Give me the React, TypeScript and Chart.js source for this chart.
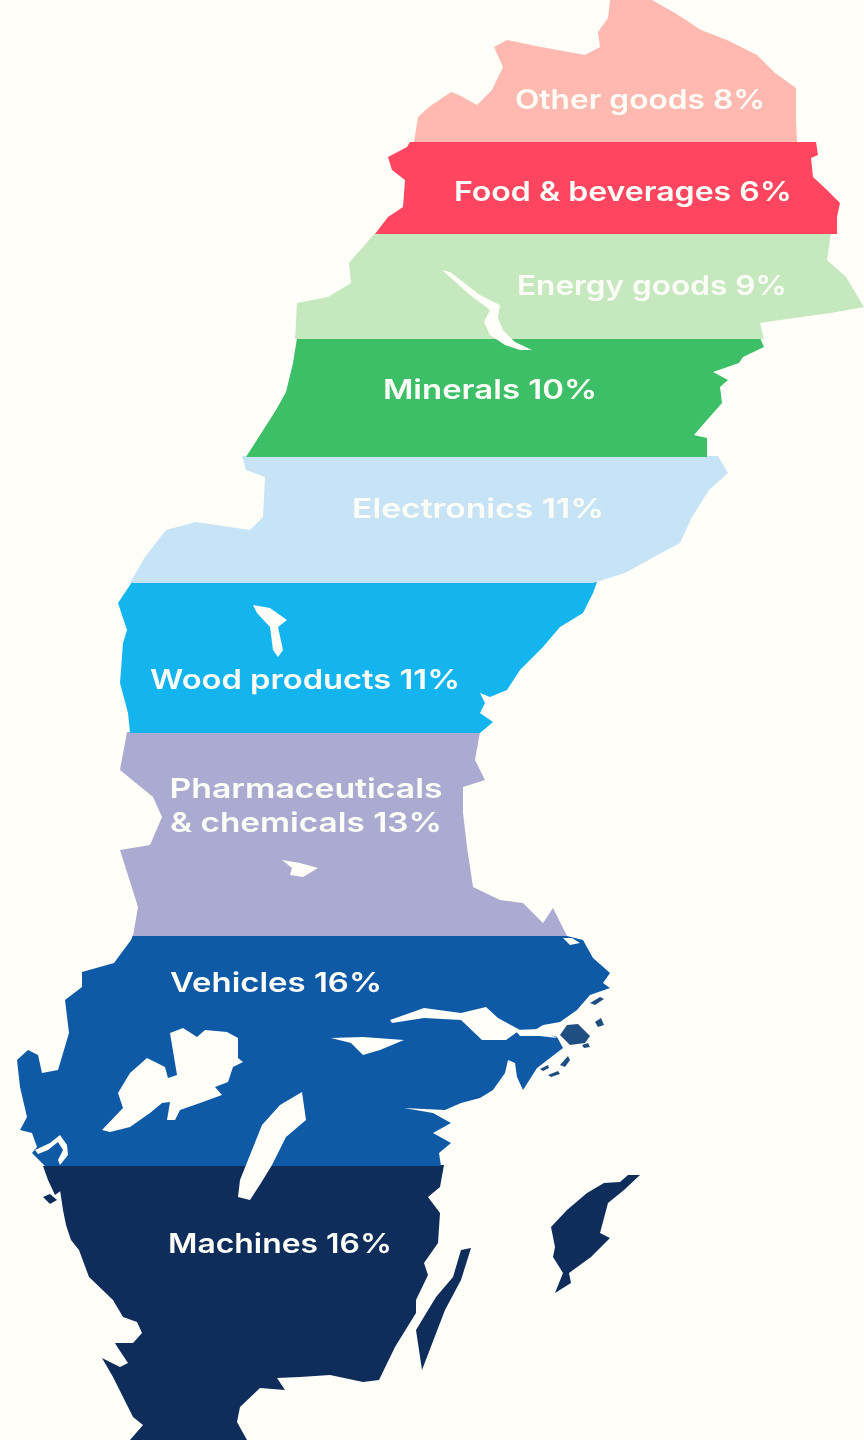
import React, { useEffect, useRef } from "react";
import { Chart, registerables } from "chart.js";

Chart.register(...registerables);

type Pt = [number, number];

const categories = ["Other goods", "Food & beverages", "Energy goods", "Minerals", "Electronics", "Wood products", "Pharmaceuticals & chemicals", "Vehicles", "Machines"];
const shares = [8, 6, 9, 10, 11, 11, 13, 16, 16];

const otherGoods: Pt[] = [[610,0],[652,0],[675,13],[701,30],[727,40],[757,55],[775,73],[796,88],[796,120],[797,142],[414,142],[418,117],[429,107],[451,92],[459,95],[477,105],[492,90],[503,67],[494,47],[507,40],[541,47],[585,55],[600,47],[598,32],[608,18]];
const foodBeverages: Pt[] = [[410,142],[816,142],[818,155],[811,158],[813,177],[827,190],[840,203],[837,217],[837,234],[375,234],[388,217],[403,207],[405,180],[392,170],[388,157],[407,147]];
const energyGoods: Pt[] = [[375,233],[831,233],[827,260],[846,277],[864,307],[831,313],[801,317],[760,323],[764,339],[295,339],[297,303],[328,297],[351,283],[349,263],[369,240]];
const minerals: Pt[] = [[297,338],[760,338],[764,347],[743,357],[739,363],[713,372],[728,380],[720,387],[722,403],[707,420],[694,435],[707,438],[707,457],[246,457],[276,410],[286,392],[293,363]];
const electronics: Pt[] = [[242,456],[718,456],[728,473],[709,490],[692,517],[680,543],[654,557],[625,573],[593,583],[130,583],[145,557],[166,530],[196,522],[250,530],[263,517],[265,477],[246,470]];
const woodProducts: Pt[] = [[132,582],[597,582],[593,593],[583,613],[560,627],[543,647],[520,670],[507,690],[490,697],[480,693],[485,703],[480,713],[493,722],[480,733],[130,733],[128,713],[120,683],[123,643],[127,630],[118,603]];
const pharmaceuticals: Pt[] = [[127,732],[480,732],[475,760],[485,780],[463,787],[463,813],[467,847],[473,887],[500,900],[523,903],[543,923],[553,908],[567,936],[133,936],[138,907],[120,850],[150,845],[162,817],[153,797],[120,770]];
const vehicles: Pt[] = [[133,935],[563,935],[583,940],[593,958],[610,973],[603,983],[610,988],[590,995],[577,1010],[560,1022],[543,1025],[535,1030],[557,1037],[563,1048],[550,1058],[537,1068],[523,1090],[517,1077],[515,1063],[508,1060],[505,1073],[493,1090],[480,1098],[461,1103],[445,1110],[404,1108],[433,1113],[451,1123],[433,1133],[451,1143],[439,1153],[441,1166],[45,1166],[32,1153],[37,1147],[32,1133],[20,1130],[27,1117],[20,1087],[17,1060],[28,1050],[38,1055],[42,1073],[58,1070],[69,1033],[65,1000],[82,987],[82,972],[114,963],[131,940]];
const machines: Pt[] = [[62,1165],[444,1165],[440,1187],[428,1197],[440,1213],[438,1243],[424,1263],[428,1275],[416,1300],[416,1313],[395,1347],[379,1380],[363,1382],[330,1375],[300,1377],[277,1378],[285,1390],[260,1388],[240,1407],[237,1422],[247,1440],[130,1440],[143,1425],[133,1417],[123,1397],[113,1377],[102,1358],[120,1367],[128,1363],[118,1348],[115,1343],[133,1343],[142,1333],[137,1322],[123,1317],[113,1300],[89,1277],[79,1250],[71,1240],[66,1225],[63,1210],[60,1190]];
const gotland: Pt[] = [[640,1175],[628,1175],[620,1182],[604,1183],[587,1193],[567,1210],[551,1227],[555,1247],[553,1257],[563,1273],[555,1293],[571,1283],[569,1273],[591,1257],[610,1238],[600,1233],[608,1203],[624,1190]];
const oland: Pt[] = [[471,1248],[461,1250],[453,1277],[436,1297],[416,1330],[422,1370],[445,1310],[461,1280]];
const westSkerry: Pt[] = [[43,1166],[62,1166],[62,1190],[55,1195],[48,1180]];
const westRock: Pt[] = [[43,1197],[50,1194],[57,1200],[50,1204]];
const eastIslandLarge: Pt[] = [[567,1025],[578,1024],[590,1036],[585,1043],[570,1045],[560,1035]];
const eastRockA: Pt[] = [[590,1003],[600,997],[604,999],[595,1005]];
const eastRockB: Pt[] = [[595,1022],[601,1018],[604,1025],[598,1027]];
const eastRockC: Pt[] = [[582,1045],[588,1043],[590,1047],[584,1048]];
const eastRockD: Pt[] = [[560,1065],[568,1056],[570,1060],[565,1067]];
const eastRockE: Pt[] = [[548,1075],[558,1071],[560,1074],[551,1077]];
const eastRockF: Pt[] = [[540,1069],[548,1065],[549,1068],[543,1071]];

const lakeTorne: Pt[] = [[442,270],[450,272],[480,295],[500,305],[498,318],[503,330],[515,342],[532,350],[520,350],[505,345],[490,335],[484,322],[490,310],[470,295]];
const lakeSiljan: Pt[] = [[253,605],[270,608],[287,620],[278,627],[283,650],[278,657],[273,650],[270,627],[257,613]];
const lakeStor: Pt[] = [[282,860],[300,863],[318,868],[303,877],[290,875],[292,868]];
const lakeVanern: Pt[] = [[102,1130],[123,1108],[118,1093],[130,1073],[147,1058],[165,1067],[168,1078],[177,1075],[170,1033],[183,1028],[197,1037],[205,1030],[227,1032],[238,1038],[238,1058],[243,1062],[233,1067],[228,1082],[215,1087],[222,1095],[200,1103],[180,1110],[175,1120],[167,1120],[170,1102],[162,1103],[150,1113],[130,1127],[110,1132]];
const lakeVattern: Pt[] = [[302,1092],[306,1120],[286,1137],[272,1165],[261,1183],[250,1200],[238,1197],[240,1180],[252,1150],[262,1125],[280,1105]];
const lakeMalaren: Pt[] = [[390,1020],[424,1008],[461,1013],[486,1007],[498,1018],[520,1030],[506,1040],[482,1040],[461,1020],[424,1018],[392,1023]];
const lakeHjalmaren: Pt[] = [[331,1038],[363,1037],[404,1040],[380,1050],[363,1055],[351,1043]];
const eastChannel: Pt[] = [[515,1030],[540,1029],[557,1038],[540,1036],[520,1036]];
const topInlet: Pt[] = [[563,938],[572,938],[580,943],[570,945]];
const westFjord: Pt[] = [[35,1150],[50,1143],[60,1135],[67,1145],[68,1155],[60,1165],[58,1160],[63,1150],[58,1142],[48,1150],[38,1154]];

const bandColors = ["#FFB9B0", "#FF4560", "#C5E8BE", "#3CBF66", "#C6E4F5", "#14B4EE", "#ABABD2", "#0E5AA7", "#0F2D5A"];
const pageColor = "#FFFEF8";
const labelColor = "#FDFDF8";
const rockColor = "#1F4E80";

const bandOutlines = [otherGoods, foodBeverages, energyGoods, minerals, electronics, woodProducts, pharmaceuticals, vehicles, machines];
const darkIslands = [gotland, oland, westSkerry, westRock];
const eastRocks = [eastIslandLarge, eastRockA, eastRockB, eastRockC, eastRockD, eastRockE, eastRockF];
const lakes = [lakeTorne, lakeSiljan, lakeStor, lakeVanern, lakeVattern, lakeMalaren, lakeHjalmaren, eastChannel, topInlet, westFjord];

const labelLines = [
  ["Other goods 8%"],
  ["Food & beverages 6%"],
  ["Energy goods 9%"],
  ["Minerals 10%"],
  ["Electronics 11%"],
  ["Wood products 11%"],
  ["Pharmaceuticals", "& chemicals 13%"],
  ["Vehicles 16%"],
  ["Machines 16%"],
];
const labelWidths = [[250], [338], [270], [214], [252], [310], [273, 272], [212], [224]];
const labelCentreX = [640, 623, 652, 490, 478, 305, 306, 276, 280];
const labelCentreY = [101, 193, 287, 391, 510, 681, 807, 984, 1245];

const toPoints = (outline: Pt[]) => outline.map(([x, y]) => ({ x, y }));

const polygon = (label: string, outline: Pt[], color: string) => ({
  label,
  data: toPoints(outline),
  showLine: true,
  fill: "shape",
  backgroundColor: color,
  borderWidth: 0,
  pointRadius: 0,
  tension: 0,
});

const labelPlugin = {
  id: "bandLabels",
  afterDatasetsDraw(chart: any) {
    const { ctx, scales } = chart;
    ctx.save();
    ctx.fillStyle = labelColor;
    ctx.font = "600 27px Inter";
    ctx.textAlign = "center";
    ctx.textBaseline = "middle";
    labelLines.forEach((lines, i) => {
      const x = scales.x.getPixelForValue(labelCentreX[i]);
      lines.forEach((line, j) => {
        const offset = (j - (lines.length - 1) / 2) * 34;
        const y = scales.y.getPixelForValue(labelCentreY[i] + offset);
        const stretch = labelWidths[i][j] / ctx.measureText(line).width;
        ctx.save();
        ctx.translate(x, y);
        ctx.scale(stretch, 1);
        ctx.fillText(line, 0, 0);
        ctx.restore();
      });
    });
    ctx.restore();
  },
};

export default function App() {
  const ref = useRef<HTMLCanvasElement>(null);
  useEffect(() => {
    const chart = new Chart(ref.current!, {
      type: "scatter",
      data: {
        datasets: [
          ...lakes.map((o, i) => polygon(`lake ${i}`, o, pageColor)),
          ...darkIslands.map((o, i) => polygon(`island ${i}`, o, bandColors[8])),
          ...eastRocks.map((o, i) => polygon(`rock ${i}`, o, rockColor)),
          ...bandOutlines.map((o, i) => polygon(`${categories[i]} ${shares[i]}%`, o, bandColors[i])),
        ],
      } as any,
      options: {
        animation: false,
        responsive: false,
        layout: { padding: 0 },
        plugins: { legend: { display: false }, tooltip: { enabled: false } },
        scales: {
          x: { type: "linear", min: 0, max: 864, display: false },
          y: { type: "linear", min: 0, max: 1440, reverse: true, display: false },
        },
      },
      plugins: [labelPlugin],
    });
    return () => chart.destroy();
  }, []);
  return (
    <div style={{ position: "fixed", left: 0, top: 0, width: 864, height: 1440, background: pageColor }}>
      <canvas ref={ref} width={864} height={1440} style={{ display: "block", filter: "blur(0.7px)" }} />
    </div>
  );
}
